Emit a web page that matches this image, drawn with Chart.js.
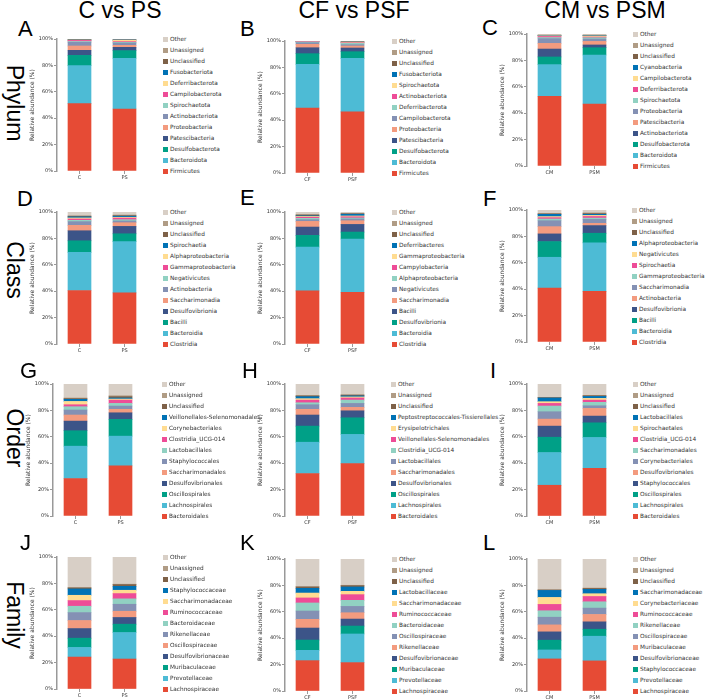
<!DOCTYPE html>
<html>
<head>
<meta charset="utf-8">
<script src="https://cdn.jsdelivr.net/npm/chart.js@4.4.1/dist/chart.umd.min.js"></script>
<style>
  body { margin: 0; background: #fff; }
  #fig { position: relative; width: 705px; height: 700px; overflow: hidden; background: #fff; }
  .big { position: absolute; font-family: "Liberation Sans", Arial, sans-serif; color: #000; white-space: nowrap; line-height: normal; }
  .rowlab { transform: translate(-50%, -50%) rotate(90deg); }
  .legend { position: absolute; font-family: "DejaVu Sans", sans-serif; font-size: 5.8px; color: #333; }
  .legend .item { height: 11px; display: flex; align-items: center; white-space: nowrap; }
  .legend .sw { width: 5px; height: 5px; margin-right: 2px; flex: none; }
  canvas { position: absolute; }
</style>
</head>
<body>
<div id="fig"></div>
<script>
// group labels on the x axis
const groupsC = ['C', 'PS'];
const groupsCF = ['CF', 'PSF'];
const groupsCM = ['CM', 'PSM'];

// Phylum
const taxaA = ['Firmicutes', 'Bacteroidota', 'Desulfobacterota', 'Patescibacteria', 'Proteobacteria', 'Actinobacteriota', 'Spirochaetota', 'Campilobacterota', 'Deferribacterota', 'Fusobacteriota', 'Unclassified', 'Unassigned', 'Other'];
const a_C = [51.0, 28.8, 7.8, 3.8, 3.3, 2.8, 0.6, 0.8, 0.2, 0.1, 0.2, 0.2, 0.4];
const a_PS = [47.0, 38.4, 5.8, 2.5, 1.5, 1.8, 0.5, 0.5, 1.0, 0.2, 0.1, 0.1, 0.6];

const taxaB = ['Firmicutes', 'Bacteroidota', 'Desulfobacterota', 'Patescibacteria', 'Proteobacteria', 'Campilobacterota', 'Deferribacterota', 'Actinobacteriota', 'Spirochaetota', 'Fusobacteriota', 'Unclassified', 'Unassigned', 'Other'];
const b_CF = [49.1, 33.2, 8.1, 4.5, 2.6, 1.2, 0.5, 0.3, 0.1, 0.1, 0.1, 0.1, 0.1];
const b_PSF = [46.3, 40.5, 5.1, 2.8, 1.5, 1.0, 1.0, 0.4, 0.3, 0.2, 0.2, 0.2, 0.5];

const taxaC = ['Firmicutes', 'Bacteroidota', 'Desulfobacterota', 'Actinobacteriota', 'Patescibacteria', 'Proteobacteria', 'Spirochaetota', 'Deferribacterota', 'Campilobacterota', 'Cyanobacteria', 'Unclassified', 'Unassigned', 'Other'];
const c_CM = [52.8, 24.0, 5.8, 6.0, 4.3, 3.6, 0.8, 0.8, 0.5, 0.2, 0.2, 0.2, 0.8];
const c_PSM = [47.0, 37.1, 5.5, 2.1, 2.7, 1.8, 1.0, 0.5, 0.8, 0.3, 0.2, 0.2, 0.8];

// Class
const taxaD = ['Clostridia', 'Bacteroidia', 'Bacilli', 'Desulfovibrionia', 'Saccharimonadia', 'Actinobacteria', 'Negativicutes', 'Gammaproteobacteria', 'Alphaproteobacteria', 'Spirochaetia', 'Unclassified', 'Unassigned', 'Other'];
const d_C = [40.5, 28.9, 8.8, 7.6, 4.1, 2.8, 1.0, 1.0, 0.8, 0.8, 0.4, 0.5, 2.8];
const d_PS = [38.7, 38.8, 6.0, 5.6, 2.8, 1.3, 1.0, 1.2, 0.6, 0.8, 0.4, 0.5, 2.3];

const taxaE = ['Clostridia', 'Bacteroidia', 'Desulfovibrionia', 'Bacilli', 'Saccharimonadia', 'Negativicutes', 'Alphaproteobacteria', 'Campylobacteria', 'Gammaproteobacteria', 'Deferribacteres', 'Unclassified', 'Unassigned', 'Other'];
const e_CF = [40.3, 33.1, 8.9, 6.3, 4.3, 1.3, 1.0, 0.8, 0.6, 0.5, 0.5, 0.6, 1.8];
const e_PSF = [39.2, 40.3, 5.3, 5.8, 2.8, 1.3, 0.8, 0.9, 0.6, 1.3, 0.3, 0.4, 1.0];

const taxaF = ['Clostridia', 'Bacteroidia', 'Bacilli', 'Desulfovibrionia', 'Actinobacteria', 'Saccharimonadia', 'Gammaproteobacteria', 'Spirochaetia', 'Negativicutes', 'Alphaproteobacteria', 'Unclassified', 'Unassigned', 'Other'];
const f_CM = [40.8, 23.4, 11.9, 5.8, 5.5, 4.5, 1.3, 1.0, 0.8, 1.7, 0.3, 0.5, 2.5];
const f_PSM = [38.3, 36.8, 7.3, 5.8, 1.7, 3.0, 1.0, 1.2, 0.8, 0.8, 0.6, 0.5, 2.2];

// Order
const taxaG = ['Bacteroidales', 'Lachnospirales', 'Oscillospirales', 'Desulfovibrionales', 'Saccharimonadales', 'Staphylococcales', 'Lactobacillales', 'Clostridia_UCG-014', 'Corynebacteriales', 'Veillonellales-Selenomonadales', 'Unclassified', 'Unassigned', 'Other'];
const g_C = [28.4, 24.5, 11.7, 7.3, 4.6, 3.8, 2.5, 1.5, 2.5, 1.6, 0.5, 0.5, 10.6];
const g_PS = [38.0, 22.5, 12.7, 5.0, 2.6, 2.5, 2.0, 2.5, 0.8, 0.8, 1.0, 0.7, 8.9];

const taxaH = ['Bacteroidales', 'Lachnospirales', 'Oscillospirales', 'Desulfovibrionales', 'Saccharimonadales', 'Lactobacillales', 'Clostridia_UCG-014', 'Veillonellales-Selenomonadales', 'Erysipelotrichales', 'Peptostreptococcales-Tissierellales', 'Unclassified', 'Unassigned', 'Other'];
const h_CF = [32.2, 23.7, 12.2, 8.4, 4.3, 3.5, 1.5, 2.0, 1.1, 1.5, 0.5, 0.5, 8.6];
const h_PSF = [39.7, 22.1, 12.6, 5.3, 2.6, 3.0, 2.5, 1.6, 0.8, 0.8, 0.5, 0.5, 8.0];

const taxaI = ['Bacteroidales', 'Lachnospirales', 'Oscillospirales', 'Staphylococcales', 'Desulfovibrionales', 'Corynebacteriales', 'Saccharimonadales', 'Clostridia_UCG-014', 'Spirochaetales', 'Lactobacillales', 'Unclassified', 'Unassigned', 'Other'];
const i_CM = [23.3, 24.8, 11.6, 8.4, 5.3, 5.6, 4.3, 2.0, 1.3, 2.8, 0.2, 0.3, 10.1];
const i_PSM = [36.2, 23.3, 11.1, 5.1, 5.8, 2.0, 2.6, 1.7, 1.3, 1.5, 0.5, 0.3, 8.6];

// Family
const taxaJ = ['Lachnospiraceae', 'Prevotellaceae', 'Muribaculaceae', 'Desulfovibrionaceae', 'Oscillospiraceae', 'Rikenellaceae', 'Bacteroidaceae', 'Ruminococcaceae', 'Saccharimonadaceae', 'Staphylococcaceae', 'Unclassified', 'Unassigned', 'Other'];
const j_C = [24.2, 7.3, 7.0, 7.3, 6.1, 6.0, 4.8, 4.3, 4.0, 4.8, 0.8, 0.2, 23.2];
const j_PS = [22.7, 20.1, 6.3, 5.1, 4.7, 5.3, 4.1, 4.0, 2.5, 3.0, 1.3, 0.3, 20.6];

const taxaK = ['Lachnospiraceae', 'Prevotellaceae', 'Muribaculaceae', 'Desulfovibrionaceae', 'Rikenellaceae', 'Oscillospiraceae', 'Bacteroidaceae', 'Ruminococcaceae', 'Saccharimonadaceae', 'Lactobacillaceae', 'Unclassified', 'Unassigned', 'Other'];
const k_CF = [23.0, 7.8, 7.8, 9.1, 6.6, 6.3, 6.1, 3.8, 3.7, 3.6, 1.0, 0.3, 20.9];
const k_PSF = [21.5, 21.7, 6.0, 5.3, 4.8, 4.8, 4.6, 4.3, 2.5, 3.3, 1.0, 0.3, 19.9];

const taxaL = ['Lachnospiraceae', 'Prevotellaceae', 'Staphylococcaceae', 'Desulfovibrionaceae', 'Muribaculaceae', 'Oscillospiraceae', 'Rikenellaceae', 'Ruminococcaceae', 'Corynebacteriaceae', 'Saccharimonadaceae', 'Unclassified', 'Unassigned', 'Other'];
const l_CM = [24.3, 6.8, 7.4, 6.3, 5.3, 5.8, 4.9, 4.8, 5.3, 5.3, 0.3, 0.2, 23.3];
const l_PSM = [22.8, 18.7, 5.3, 5.6, 5.6, 4.8, 4.8, 4.0, 2.1, 3.3, 0.7, 0.3, 22.0];

const colTitles = ['C vs PS', 'CF vs PSF', 'CM vs PSM'];
const rowTitles = ['Phylum', 'Class', 'Order', 'Family'];

const palette = ['#E64B35', '#4DBBD5', '#00A087', '#3C5488', '#F39B7F', '#8491B4', '#91D1C2', '#EE4C97', '#FFDC91', '#0072B5', '#7E6148', '#B09C85', '#D8CFC6'];

const panels = [
    { letter: 'A', taxa: taxaA, groups: groupsC, first: a_C, second: a_PS },
    { letter: 'B', taxa: taxaB, groups: groupsCF, first: b_CF, second: b_PSF },
    { letter: 'C', taxa: taxaC, groups: groupsCM, first: c_CM, second: c_PSM },
    { letter: 'D', taxa: taxaD, groups: groupsC, first: d_C, second: d_PS },
    { letter: 'E', taxa: taxaE, groups: groupsCF, first: e_CF, second: e_PSF },
    { letter: 'F', taxa: taxaF, groups: groupsCM, first: f_CM, second: f_PSM },
    { letter: 'G', taxa: taxaG, groups: groupsC, first: g_C, second: g_PS },
    { letter: 'H', taxa: taxaH, groups: groupsCF, first: h_CF, second: h_PSF },
    { letter: 'I', taxa: taxaI, groups: groupsCM, first: i_CM, second: i_PSM },
    { letter: 'J', taxa: taxaJ, groups: groupsC, first: j_C, second: j_PS },
    { letter: 'K', taxa: taxaK, groups: groupsCF, first: k_CF, second: k_PSF },
    { letter: 'L', taxa: taxaL, groups: groupsCM, first: l_CM, second: l_PSM }
];

// where each panel sits: y axis x, plot top, legend left, letter left/baseline
const placement = [
    { axisX: 57, top: 39, legX: 163, letX: 18, letBase: 36 },
    { axisX: 285, top: 41, legX: 392, letX: 240, letBase: 36 },
    { axisX: 527, top: 34, legX: 633, letX: 482, letBase: 35 },
    { axisX: 57, top: 212, legX: 163, letX: 17, letBase: 206 },
    { axisX: 285, top: 212, legX: 392, letX: 240, letBase: 205 },
    { axisX: 527, top: 210, legX: 632, letX: 483, letBase: 206 },
    { axisX: 53, top: 384, legX: 162, letX: 20, letBase: 378 },
    { axisX: 285, top: 384, legX: 391, letX: 242, letBase: 378 },
    { axisX: 527, top: 384, legX: 633, letX: 490, letBase: 378 },
    { axisX: 57, top: 557, legX: 163, letX: 20, letBase: 550 },
    { axisX: 285, top: 559, legX: 392, letX: 240, letBase: 550 },
    { axisX: 527, top: 559, legX: 633, letX: 483, letBase: 550 }
];

const fig = document.getElementById('fig');
const PLOT_H = 132, PLOT_W = 90, Y_BOX = 28, PAD_T = 5, X_BOX = 15;

function addText(txt, size, left, top, extra) {
    const el = document.createElement('div');
    el.className = 'big' + (extra ? ' ' + extra : '');
    el.style.fontSize = size + 'px';
    el.style.left = left + 'px';
    el.style.top = top + 'px';
    el.textContent = txt;
    fig.appendChild(el);
    return el;
}

// column titles
[120, 354, 605].forEach((cx, i) => {
    const el = addText(colTitles[i], 23, cx, -3);
    el.style.transform = 'translateX(-50%)';
});

// row titles, rotated
[103, 270, 438, 615].forEach((cy, i) => {
    addText(rowTitles[i], 23, 14, cy, 'rowlab');
});

const legends = [];

panels.forEach((p, idx) => {
    const pos = placement[idx];

    addText(p.letter, 22, pos.letX, pos.letBase - 20);

    const canvas = document.createElement('canvas');
    canvas.width = Y_BOX + PLOT_W + 2;
    canvas.height = PAD_T + PLOT_H + X_BOX;
    canvas.style.left = (pos.axisX - Y_BOX) + 'px';
    canvas.style.top = (pos.top - PAD_T) + 'px';
    fig.appendChild(canvas);

    const datasets = p.taxa.map((name, k) => ({
        label: name,
        data: [p.first[k], p.second[k]],
        backgroundColor: palette[k],
        borderWidth: 0,
        barThickness: 23
    }));

    new Chart(canvas, {
        type: 'bar',
        data: { labels: p.groups, datasets: datasets },
        options: {
            responsive: false,
            animation: false,
            devicePixelRatio: 1,
            layout: { padding: { top: PAD_T, right: 2, left: 0, bottom: 0 } },
            plugins: { legend: { display: false }, tooltip: { enabled: false } },
            scales: {
                x: {
                    stacked: true,
                    offset: true,
                    border: { display: false },
                    grid: { display: true, drawOnChartArea: false, drawTicks: true, tickLength: 3, offset: false, color: '#999' },
                    ticks: { color: '#333', padding: 1, font: { family: 'DejaVu Sans', size: 5 } },
                    afterFit: s => { s.height = X_BOX; }
                },
                y: {
                    stacked: true,
                    min: 0,
                    max: 100,
                    border: { display: true, color: '#999', width: 1.5 },
                    grid: { display: true, drawOnChartArea: false, drawTicks: true, tickLength: 3, color: '#999' },
                    ticks: {
                        stepSize: 20,
                        color: '#333',
                        padding: 1,
                        font: { family: 'DejaVu Sans', size: 5 },
                        callback: v => v + '%'
                    },
                    title: {
                        display: true,
                        text: 'Relative abundance (%)',
                        color: '#333',
                        padding: 0,
                        font: { family: 'DejaVu Sans', size: 6 }
                    },
                    afterFit: s => { s.width = Y_BOX; }
                }
            }
        }
    });

    legends.push({ p, pos });
});

// legends go on top so long names can run over the next panel
legends.forEach(({ p, pos }) => {
    const box = document.createElement('div');
    box.className = 'legend';
    box.style.left = pos.legX + 'px';
    box.style.top = (pos.top - 5.5) + 'px';
    for (let k = p.taxa.length - 1; k >= 0; k--) {
        const row = document.createElement('div');
        row.className = 'item';
        const sw = document.createElement('span');
        sw.className = 'sw';
        sw.style.background = palette[k];
        const label = document.createElement('span');
        label.textContent = p.taxa[k];
        row.appendChild(sw);
        row.appendChild(label);
        box.appendChild(row);
    }
    fig.appendChild(box);
});
</script>
</body>
</html>
